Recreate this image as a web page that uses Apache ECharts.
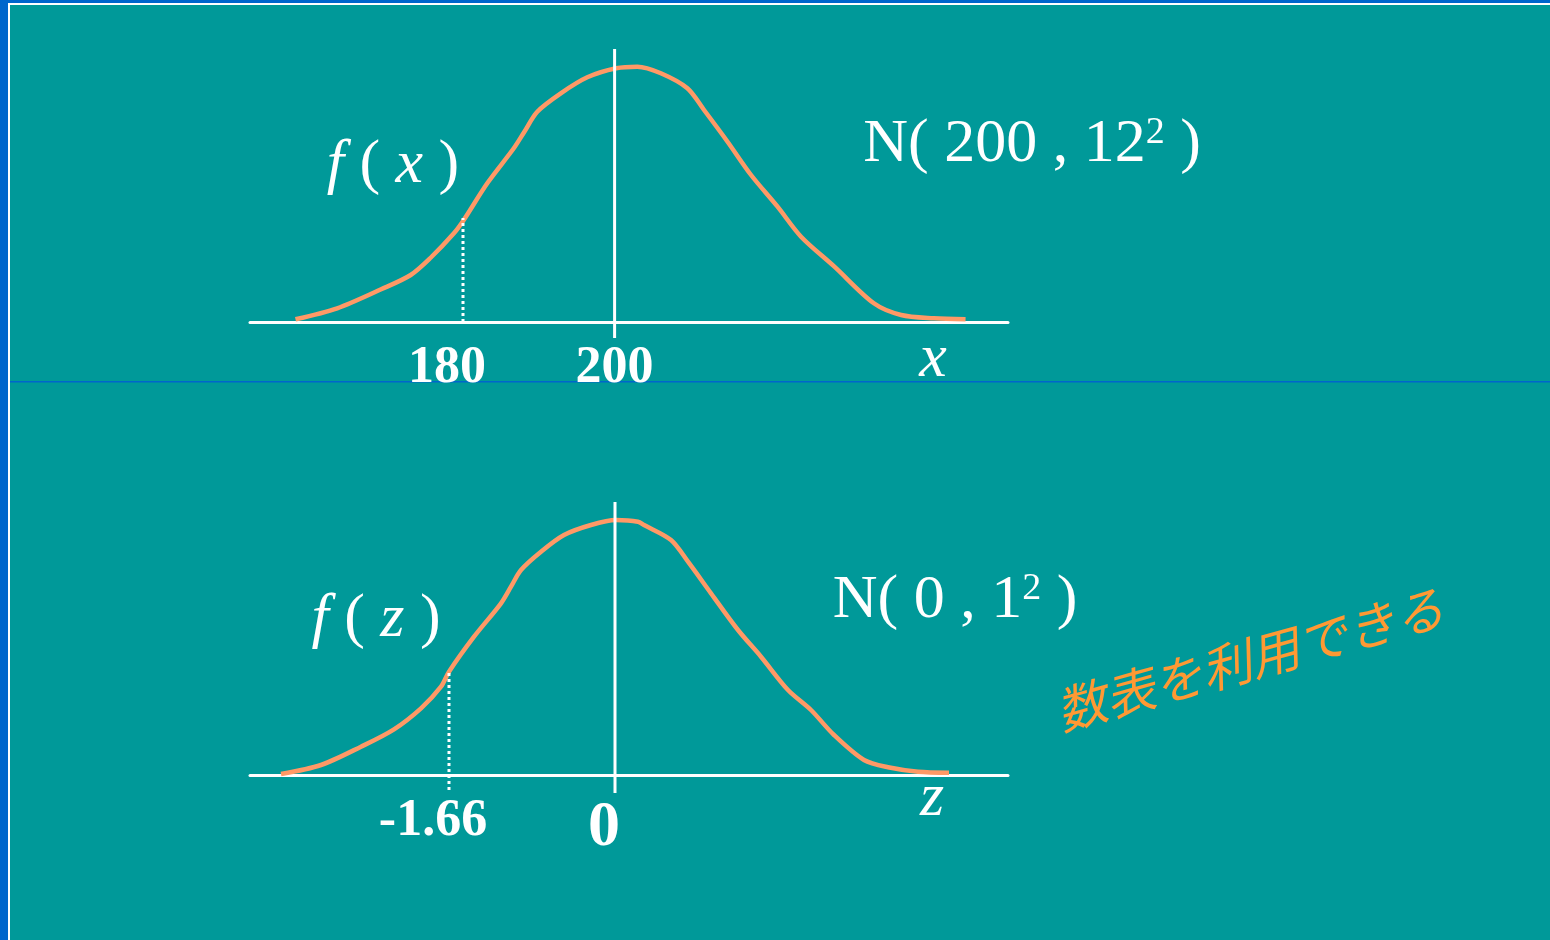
<!DOCTYPE html>
<html>
<head>
<meta charset="utf-8">
<script src="https://cdn.jsdelivr.net/npm/echarts@6/dist/echarts.min.js"></script>
<style>
  html, body { margin: 0; padding: 0; width: 1550px; height: 940px; overflow: hidden; background: #0066cc; }
  #slide { position: absolute; left: 8px; top: 3px; right: 0; bottom: 0;
           border-left: 2px solid #ffffff; border-top: 2px solid #ffffff; background: #009999; }
  #chart { position: absolute; left: 0; top: 0; width: 1550px; height: 940px; }
</style>
</head>
<body>
<div id="slide"></div>
<div id="chart"></div>
<script>
// N(200, 12^2): density sketch f(x)
const xValues = [157.9, 163.4, 169.2, 173.1, 175.7, 178.8, 180.1, 183.2, 186.7, 188.1, 189.8, 192.9, 196.4, 200.2,
  203.0, 206.1, 209.6, 211.8, 214.9, 218.0, 221.5, 224.6, 229.0, 234.2, 237.8, 242.1, 246.3];
const fxValues = [2.7, 13.7, 32.7, 47, 64, 88.7, 102, 138.7, 173.7, 190.3, 210.3, 228.7, 244.7, 253.7,
  255.3, 248.7, 233.7, 212, 180.3, 147, 115.3, 85.3, 55.3, 18.7, 7, 3.7, 2.7];

// N(0, 1^2): standardised density sketch f(z)
const zValues = [-3.34, -2.94, -2.54, -2.21, -1.94, -1.74, -1.66, -1.41, -1.14, -1.04, -0.94, -0.74, -0.51, -0.24,
  0.01, 0.23, 0.29, 0.56, 0.73, 0.96, 1.23, 1.46, 1.73, 1.96, 2.19, 2.49, 2.73, 3.03, 3.34];
const fzValues = [1, 10, 28.3, 45.7, 66.7, 88.3, 103.3, 138.3, 171.7, 188.3, 205, 223.3, 240, 250,
  255, 253.3, 250, 235, 213.3, 181.7, 145, 118.3, 85, 65, 40, 15, 7.7, 3.3, 2.3];

// tick values and their labels
const xTicks = [180, 200];
const xTickLabels = ['180', '200'];
const zTicks = [-1.66, 0];
const zTickLabels = ['-1.66', '0'];

// mean line and cut-off line (value, from, to)
const xMeanLine = [200, -16, 273];
const xCutLine = [180, 0, 104];
const zMeanLine = [0, -18, 273];
const zCutLine = [-1.66, -15, 105];

const WHITE = '#ffffff';
const CURVE = '#ff9966';
const SERIF = '"Liberation Serif", "DejaVu Serif", serif';

const chart = echarts.init(document.getElementById('chart'), null, { renderer: 'canvas' });

function pairs(xs, ys) { return xs.map((x, i) => [x, ys[i]]); }
function vline(spec) { return [[spec[0], spec[1]], [spec[0], spec[2]]]; }

function tickFormatter(ticks, labels, styles) {
  return function (v) {
    let idx = -1;
    ticks.forEach((t, i) => { if (Math.abs(t - v) < 1e-6) idx = i; });
    if (idx < 0) return '';
    return '{' + styles[idx] + '|' + labels[idx] + '}';
  };
}

const tickRich = {
  s: { fontFamily: SERIF, fontWeight: 'bold', fontSize: 52, color: WHITE, padding: [0, 32, 0, 0] },
  c: { fontFamily: SERIF, fontWeight: 'bold', fontSize: 52, color: WHITE },
  big: { fontFamily: SERIF, fontWeight: 'bold', fontSize: 64, color: WHITE, padding: [0, 22, 0, 0] }
};

function xAxisFor(gridIndex, min, max, ticks, labels, styles) {
  return {
    type: 'value', gridIndex, min, max,
    splitLine: { show: false },
    axisLine: { show: true, onZero: false, lineStyle: { color: WHITE, width: 3 } },
    axisTick: { show: false },
    axisLabel: {
      show: true, customValues: ticks, margin: 21,
      formatter: tickFormatter(ticks, labels, styles), rich: tickRich
    }
  };
}

function yAxisFor(gridIndex) {
  return { type: 'value', gridIndex, min: 0, max: 300, show: false };
}

function curveSeries(idx, data) {
  return {
    type: 'line', xAxisIndex: idx, yAxisIndex: idx, data, smooth: 0.3,
    symbol: 'none', clip: false, z: 2,
    lineStyle: { color: CURVE, width: 4.5 }
  };
}

function guideSeries(idx, data, type, width) {
  return {
    type: 'line', xAxisIndex: idx, yAxisIndex: idx, data, symbol: 'none', clip: false, z: 3,
    lineStyle: { color: WHITE, width, type }, silent: true
  };
}

const mathRich = {
  i: { fontFamily: SERIF, fontStyle: 'italic', fontSize: 62, color: WHITE },
  n: { fontFamily: SERIF, fontSize: 62, color: WHITE },
  s: { fontFamily: SERIF, fontSize: 38, color: WHITE, verticalAlign: 'top' }
};

function mathText(x, y, text) {
  return {
    type: 'text', x, y,
    style: { text, align: 'center', verticalAlign: 'middle', fill: WHITE, rich: mathRich }
  };
}

const option = {
  animation: false,
  backgroundColor: 'transparent',
  grid: [
    { left: 250, right: 542, top: 22, bottom: 618 },
    { left: 250, right: 542, top: 475, bottom: 165 }
  ],
  xAxis: [
    xAxisFor(0, 151.9, 251.9, xTicks, xTickLabels, ['s', 'c']),
    xAxisFor(1, -3.65, 3.93, zTicks, zTickLabels, ['s', 'big'])
  ],
  yAxis: [yAxisFor(0), yAxisFor(1)],
  series: [
    curveSeries(0, pairs(xValues, fxValues)),
    guideSeries(0, vline(xMeanLine), 'solid', 3),
    guideSeries(0, vline(xCutLine), [3, 3], 3),
    curveSeries(1, pairs(zValues, fzValues)),
    guideSeries(1, vline(zMeanLine), 'solid', 3),
    guideSeries(1, vline(zCutLine), [3, 3], 3)
  ],
  graphic: [
    { type: 'rect', z: -1, shape: { x: 10, y: 381, width: 1540, height: 1.5 }, style: { fill: '#0066cc' } },
    mathText(393, 166, '{i|f}{n| ( }{i|x}{n| )}'),
    mathText(376, 620, '{i|f}{n| ( }{i|z}{n| )}'),
    mathText(1032, 145, '{n|N( 200 , 12}{s|2}{n| )}'),
    mathText(955, 601, '{n|N( 0 , 1}{s|2}{n| )}'),
    mathText(933, 360, '{i|x}'),
    mathText(932, 799, '{i|z}'),
    {
      type: 'text', x: 1250, y: 659, rotation: 15.5 * Math.PI / 180,
      style: {
        text: '数表を利用できる', font: 'italic 50px "Noto Sans CJK JP"', fill: '#ff9933',
        align: 'center', verticalAlign: 'middle'
      }
    }
  ]
};

chart.setOption(option);
</script>
</body>
</html>
